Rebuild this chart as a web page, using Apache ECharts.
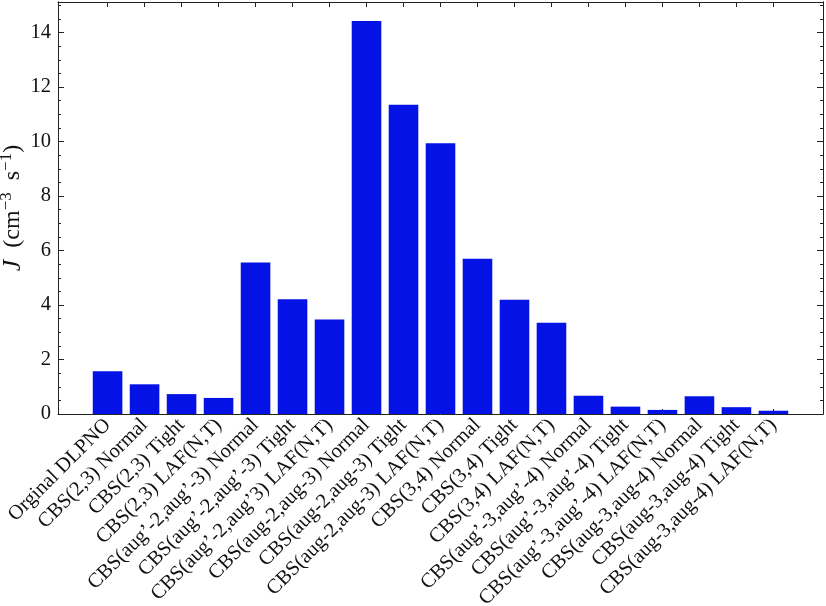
<!DOCTYPE html>
<html><head><meta charset="utf-8">
<script src="https://cdn.jsdelivr.net/npm/echarts@6/dist/echarts.min.js"></script>
<style>html,body{margin:0;padding:0;background:#fff}#c{width:826px;height:606px}</style>
</head><body><div id="c"></div>
<script>
const categories = [
  "Orginal DLPNO",
  "CBS(2,3) Normal",
  "CBS(2,3) Tight",
  "CBS(2,3) LAF(N,T)",
  "CBS(aug’-2,aug’-3) Normal",
  "CBS(aug’-2,aug’-3) Tight",
  "CBS(aug’-2,aug’3) LAF(N,T)",
  "CBS(aug-2,aug-3) Normal",
  "CBS(aug-2,aug-3) Tight",
  "CBS(aug-2,aug-3) LAF(N,T)",
  "CBS(3,4) Normal",
  "CBS(3,4) Tight",
  "CBS(3,4) LAF(N,T)",
  "CBS(aug’-3,aug’-4) Normal",
  "CBS(aug’-3,aug’-4) Tight",
  "CBS(aug’-3,aug’-4) LAF(N,T)",
  "CBS(aug-3,aug-4) Normal",
  "CBS(aug-3,aug-4) Tight",
  "CBS(aug-3,aug-4) LAF(N,T)"
];
const values = [1.57, 1.09, 0.73, 0.59, 5.56, 4.21, 3.47, 14.42, 11.35, 9.94, 5.70, 4.19, 3.35, 0.67, 0.27, 0.15, 0.65, 0.25, 0.12];
const yTicks = [0, 2, 4, 6, 8, 10, 12, 14];

const idx = categories.map((_, i) => i);
const xMin = -1.34, xMax = 19.34, yMin = 0, yMax = 15.12;
const FONT = "'Liberation Serif', 'DejaVu Serif', serif";
const lineStyle = { color: '#222', width: 1 };

const chart = echarts.init(document.getElementById('c'), null, { renderer: 'canvas' });
const xBase = { type: 'value', min: xMin, max: xMax, splitLine: { show: false }, axisLine: { show: true, onZero: false, lineStyle } };
const yBase = { type: 'value', min: yMin, max: yMax, splitLine: { show: false }, axisLine: { show: true, onZero: false, lineStyle } };
const LH = 30;
chart.setOption({
  animation: false,
  backgroundColor: '#fff',
  grid: { left: 58, top: 2, right: 3, bottom: 192, containLabel: false, outerBoundsMode: 'none' },
  xAxis: [
    Object.assign({}, xBase, {
      position: 'bottom',
      axisTick: { show: true, inside: true, length: 5, customValues: idx, lineStyle: { color: '#222', width: 1 } },
      axisLabel: { show: true, customValues: idx, rotate: 45, margin: 8, color: '#111', fontFamily: FONT, fontSize: 20.5,
        formatter: v => categories[Math.round(v)] }
    }),
    Object.assign({}, xBase, {
      position: 'top',
      axisTick: { show: true, inside: true, length: 5, customValues: idx, lineStyle: { color: '#222', width: 1 } },
      axisLabel: { show: false }
    })
  ],
  yAxis: [
    Object.assign({}, yBase, {
      position: 'left',
      name: '{i|J}{n|  (cm}{s|−3}{n|  s}{s|−1}{n|)}',
      nameLocation: 'middle', nameRotate: 90, nameGap: 30, nameMoveOverlap: false,
      nameTextStyle: { fontFamily: FONT, fontSize: 24, color: '#111',
        rich: {
          i: { fontFamily: FONT, fontSize: 26, fontStyle: 'italic', color: '#111', lineHeight: LH, verticalAlign: 'middle' },
          n: { fontFamily: FONT, fontSize: 24, color: '#111', lineHeight: LH, verticalAlign: 'middle' },
          s: { fontFamily: FONT, fontSize: 17, color: '#111', lineHeight: LH, verticalAlign: 'top' }
        } },
      axisTick: { show: true, inside: true, length: 6, customValues: yTicks, lineStyle: { color: '#222', width: 1 } },
      axisLabel: { show: true, customValues: yTicks, margin: 7, color: '#111', fontFamily: FONT, fontSize: 20.5 }
    }),
    Object.assign({}, yBase, {
      position: 'left', interval: 0.5,
      axisTick: { show: true, inside: true, length: 3, lineStyle: { color: '#222', width: 1 } },
      axisLabel: { show: false }
    }),
    Object.assign({}, yBase, {
      position: 'right',
      axisTick: { show: true, inside: true, length: 6, customValues: yTicks, lineStyle: { color: '#222', width: 1 } },
      axisLabel: { show: false }
    }),
    Object.assign({}, yBase, {
      position: 'right', interval: 0.5,
      axisTick: { show: true, inside: true, length: 3, lineStyle: { color: '#222', width: 1 } },
      axisLabel: { show: false }
    })
  ],
  series: [{
    type: 'bar',
    xAxisIndex: 0, yAxisIndex: 0,
    barWidth: 29.6,
    itemStyle: { color: '#0412e6', borderWidth: 0 },
    data: idx.map(i => [i, values[i]]),
    z: 1
  }]
});
</script></body></html>
